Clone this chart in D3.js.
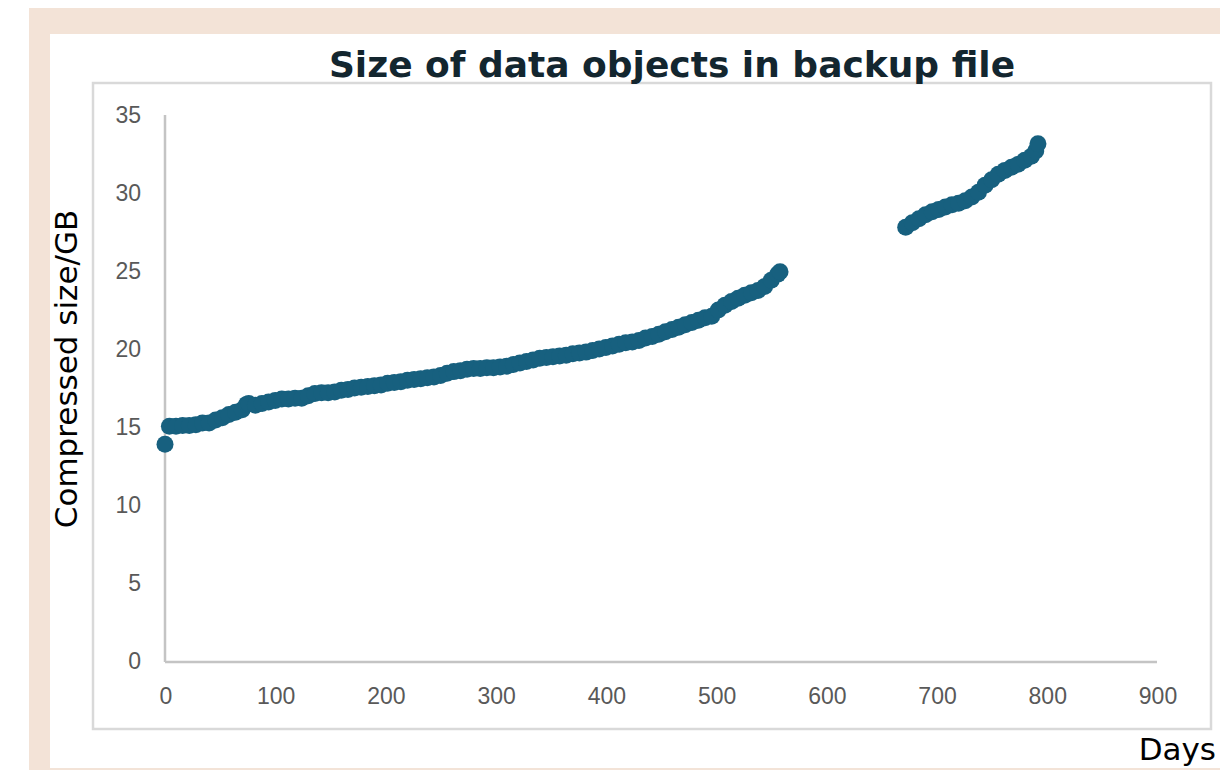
<!DOCTYPE html>
<html>
<head>
<meta charset="utf-8">
<script src="https://cdn.jsdelivr.net/npm/d3@7"></script>
<style>
  body { margin: 0; background: #fff; }
</style>
</head>
<body>
<div id="chart"></div>
<script>
// values (day, compressed size in GB)
let days = [0, 4, 10, 16, 22, 28, 34, 40, 46, 52, 58, 64, 70, 74, 76, 82, 88, 94, 100,
  106, 112, 118, 124, 130, 136, 142, 148, 154, 160, 166, 172, 178, 184, 190, 196,
  202, 208, 214, 220, 226, 232, 238, 244, 250, 256, 262, 268, 274, 280, 286, 292, 298,
  304, 310, 316, 322, 328, 334, 340, 346, 352, 358, 364, 370, 376, 382, 388, 394,
  400, 406, 412, 418, 424, 430, 436, 442, 448, 454, 460, 466, 472, 478, 484, 490, 496,
  502, 508, 514, 520, 526, 532, 538, 544, 550, 556, 558,
  672, 678, 684, 690, 696, 702, 708, 714, 720, 726, 732, 738, 744, 750, 756, 762,
  768, 774, 780, 786, 790, 792];
let sizes = [13.9, 15.05, 15.05, 15.1, 15.1, 15.15, 15.25, 15.25, 15.45, 15.6, 15.8, 15.95, 16.1, 16.45, 16.5, 16.4, 16.5, 16.6, 16.7,
  16.8, 16.8, 16.85, 16.85, 17.0, 17.15, 17.2, 17.2, 17.25, 17.35, 17.4, 17.5, 17.55, 17.6, 17.65, 17.7,
  17.8, 17.85, 17.9, 18.0, 18.05, 18.1, 18.15, 18.2, 18.3, 18.45, 18.55, 18.6, 18.7, 18.75, 18.75, 18.8, 18.8,
  18.85, 18.9, 19.0, 19.1, 19.2, 19.3, 19.4, 19.45, 19.5, 19.55, 19.6, 19.7, 19.75, 19.8, 19.9, 20.0,
  20.1, 20.2, 20.3, 20.4, 20.45, 20.55, 20.7, 20.8, 20.95, 21.1, 21.25, 21.4, 21.55, 21.7, 21.85, 22.0, 22.1,
  22.5, 22.8, 23.05, 23.25, 23.45, 23.6, 23.75, 24.0, 24.4, 24.8, 24.95,
  27.8, 28.1, 28.35, 28.6, 28.8, 28.95, 29.1, 29.25, 29.35, 29.5, 29.75, 30.05, 30.5, 30.85, 31.2, 31.45,
  31.65, 31.85, 32.1, 32.35, 32.7, 33.15];
let xTicks = [0, 100, 200, 300, 400, 500, 600, 700, 800, 900];
let yTicks = [0, 5, 10, 15, 20, 25, 30, 35];

let width = 1220,
    height = 770;

let svg = d3.select("#chart")
    .append("svg")
    .attr("width", width)
    .attr("height", height);

// beige frame with white panel
svg.append("rect").attr("x", 29).attr("y", 8).attr("width", width - 29).attr("height", height - 8)
    .attr("fill", "#f3e3d7");
svg.append("rect").attr("x", 50).attr("y", 34).attr("width", width - 50).attr("height", 734)
    .attr("fill", "#fff");

// inner chart border
svg.append("rect").attr("x", 93).attr("y", 83).attr("width", 1118).attr("height", 646)
    .attr("fill", "none").attr("stroke", "#d9d9d9").attr("stroke-width", 2.5);

let x = d3.scaleLinear().domain([0, 900]).range([165, 1157]);
let y = d3.scaleLinear().domain([0, 35]).range([661, 115]);

// axis lines
svg.append("line").attr("x1", x(0)).attr("x2", x(0)).attr("y1", y(35)).attr("y2", y(0) + 1)
    .attr("stroke", "#c4c4c4").attr("stroke-width", 2.5);
svg.append("line").attr("x1", x(0)).attr("x2", x(900)).attr("y1", y(0) + 1).attr("y2", y(0) + 1)
    .attr("stroke", "#c4c4c4").attr("stroke-width", 2.5);

svg.selectAll(".ylab").data(yTicks).enter()
    .append("text")
    .attr("class", "ylab")
    .attr("x", 141)
    .attr("y", d => y(d))
    .attr("dy", "0.36em")
    .style("text-anchor", "end")
    .style("font-family", "Liberation Sans, Arial, sans-serif")
    .style("font-size", "23px")
    .style("fill", "#595959")
    .text(d => d);

svg.selectAll(".xlab").data(xTicks).enter()
    .append("text")
    .attr("class", "xlab")
    .attr("x", d => x(d) + 1)
    .attr("y", 696)
    .attr("dy", "0.36em")
    .style("text-anchor", "middle")
    .style("font-family", "Liberation Sans, Arial, sans-serif")
    .style("font-size", "23px")
    .style("fill", "#595959")
    .text(d => d);

// dots
let pts = days.map((d, i) => ({day: d, size: sizes[i]}));
svg.selectAll("circle").data(pts).enter()
    .append("circle")
    .attr("cx", d => x(d.day))
    .attr("cy", d => y(d.size))
    .attr("r", 8.5)
    .attr("fill", "#17607f");

// titles
svg.append("text")
    .attr("x", 672)
    .attr("y", 77)
    .style("text-anchor", "middle")
    .style("font-family", "DejaVu Sans")
    .style("font-weight", "bold")
    .style("font-size", "36px")
    .style("fill", "#13262f")
    .text("Size of data objects in backup file");

svg.append("text")
    .attr("transform", "translate(77,369) rotate(-90)")
    .style("text-anchor", "middle")
    .style("font-family", "DejaVu Sans")
    .style("font-size", "31px")
    .style("fill", "#000")
    .text("Compressed size/GB");

svg.append("text")
    .attr("x", 1216)
    .attr("y", 760)
    .style("text-anchor", "end")
    .style("font-family", "DejaVu Sans")
    .style("font-size", "31px")
    .style("fill", "#000")
    .text("Days");
</script>
</body>
</html>
